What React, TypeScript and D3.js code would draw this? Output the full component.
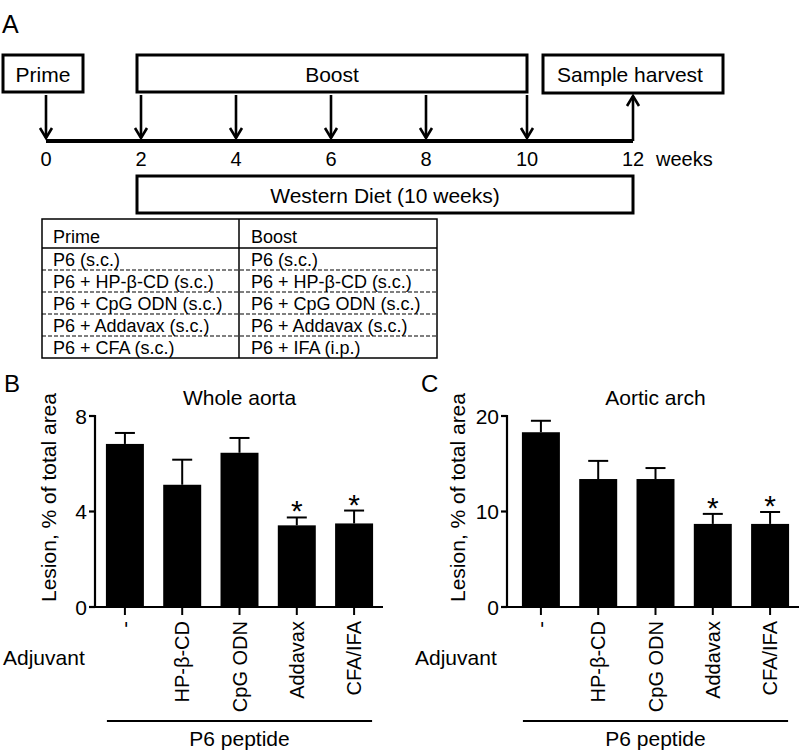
import React from "react";
import * as d3 from "d3";

// ---------- Data ----------
const timelineWeeks = [0, 2, 4, 6, 8, 10, 12];
const timelineAnchorWeeks = [0, 8, 10, 12];
const primeWeeks = [0];
const boostWeeks = [2, 4, 6, 8, 10];
const harvestWeek = 12;

const tableHeader = ["Prime", "Boost"];
const primeRows = ["P6 (s.c.)", "P6 + HP-β-CD (s.c.)", "P6 + CpG ODN (s.c.)", "P6 + Addavax (s.c.)", "P6 + CFA (s.c.)"];
const boostRows = ["P6 (s.c.)", "P6 + HP-β-CD (s.c.)", "P6 + CpG ODN (s.c.)", "P6 + Addavax (s.c.)", "P6 + IFA (i.p.)"];

const adjuvants = ["-", "HP-β-CD", "CpG ODN", "Addavax", "CFA/IFA"];
const significant = [false, false, false, true, true];

const wholeAortaMean = [6.83, 5.12, 6.46, 3.42, 3.5];
const wholeAortaSem = [0.46, 1.05, 0.62, 0.33, 0.54];
const wholeAortaTicks = [0, 4, 8];

const archMean = [18.3, 13.4, 13.4, 8.7, 8.7];
const archSem = [1.2, 1.9, 1.15, 1.05, 1.25];
const archTicks = [0, 10, 20];

const FONT = "'Liberation Sans', Arial, Helvetica, sans-serif";

function DownArrow({ x, y1, y2 }: { x: number; y1: number; y2: number }) {
  return (
    <g stroke="#000" strokeWidth={2.6} fill="none">
      <line x1={x} x2={x} y1={y1} y2={y2} />
      <polyline points={`${x - 6},${y2 - 10} ${x},${y2} ${x + 6},${y2 - 10}`} strokeLinejoin="miter" />
    </g>
  );
}

function Timeline() {
  const x = d3.scaleLinear().domain(timelineAnchorWeeks).range([46, 426, 527, 633]);
  const lineY = 141;
  const boxTop = 55;
  const boxBot = 92;
  return (
    <g fontFamily={FONT}>
      <text x={2} y={33} fontSize={25}>A</text>
      {/* Prime box */}
      <rect x={3} y={boxTop} width={80} height={boxBot - boxTop} fill="#fff" stroke="#000" strokeWidth={3} />
      <text x={43} y={82} fontSize={21} textAnchor="middle">Prime</text>
      {/* Boost box */}
      <rect x={x(2) - 4} y={boxTop} width={x(10) - x(2) + 4} height={boxBot - boxTop} fill="#fff" stroke="#000" strokeWidth={3} />
      <text x={(x(2) - 4 + x(10)) / 2} y={82} fontSize={21} textAnchor="middle">Boost</text>
      {/* Sample harvest */}
      <rect x={543} y={boxTop} width={180} height={boxBot - boxTop + 1} fill="#fff" stroke="#000" strokeWidth={3} />
      <text x={630} y={82} fontSize={21} textAnchor="middle">Sample harvest</text>
      {/* arrows */}
      {primeWeeks.concat(boostWeeks).map((w) => (
        <DownArrow key={w} x={x(w)} y1={95} y2={138} />
      ))}
      <g stroke="#000" strokeWidth={2.6} fill="none">
        <line x1={x(harvestWeek)} x2={x(harvestWeek)} y1={lineY} y2={96} />
        <polyline points={`${x(harvestWeek) - 6},${106} ${x(harvestWeek)},${96} ${x(harvestWeek) + 6},${106}`} />
      </g>
      {/* main line */}
      <line x1={x(0)} x2={x(12)} y1={lineY} y2={lineY} stroke="#000" strokeWidth={4} />
      {timelineWeeks.map((w) => (
        <text key={w} x={x(w)} y={166} fontSize={20} textAnchor="middle">{w}</text>
      ))}
      <text x={656} y={166} fontSize={20}>weeks</text>
      {/* Western diet */}
      <rect x={x(2) - 4} y={176} width={x(12) - x(2) + 4} height={37} fill="#fff" stroke="#000" strokeWidth={3} />
      <text x={(x(2) - 4 + x(12)) / 2} y={203} fontSize={21} textAnchor="middle">Western Diet (10 weeks)</text>
    </g>
  );
}

function Table() {
  const left = 42, mid = 239, right = 437;
  const top = 219, headBot = 248;
  const rowH = 22;
  const rows = d3.range(primeRows.length);
  const bottom = headBot + rowH * rows.length;
  return (
    <g fontFamily={FONT} fontSize={18}>
      <rect x={left} y={top} width={right - left} height={bottom - top} fill="none" stroke="#000" strokeWidth={1.5} />
      <line x1={mid} x2={mid} y1={top} y2={bottom} stroke="#000" strokeWidth={1.5} />
      <line x1={left} x2={right} y1={headBot} y2={headBot} stroke="#000" strokeWidth={1.5} />
      {rows.slice(1).map((i) => (
        <line key={i} x1={left} x2={right} y1={headBot + rowH * i} y2={headBot + rowH * i} stroke="#000" strokeWidth={1.2} strokeDasharray="4,2" />
      ))}
      <text x={53} y={headBot - 5}>{tableHeader[0]}</text>
      <text x={251} y={headBot - 5}>{tableHeader[1]}</text>
      {rows.map((i) => (
        <g key={i}>
          <text x={53} y={headBot + rowH * (i + 1) - 4}>{primeRows[i]}</text>
          <text x={251} y={headBot + rowH * (i + 1) - 4}>{boostRows[i]}</text>
        </g>
      ))}
    </g>
  );
}

function BarPanel({
  label, title, means, sems, ticks, axisX, r0, r1, labelX, yLabelX, adjX,
}: {
  label: string; title: string; means: number[]; sems: number[]; ticks: number[];
  axisX: number; r0: number; r1: number; labelX: number; yLabelX: number; adjX: number;
}) {
  const y0 = 607, yTop = 416;
  const y = d3.scaleLinear().domain([0, ticks[ticks.length - 1]]).range([y0, yTop]);
  const x = d3.scaleBand<string>().domain(adjuvants).range([r0, r1]).paddingInner(0.337).paddingOuter(0.173);
  const bw = x.bandwidth();
  const first = x(adjuvants[0])!;
  const last = x(adjuvants[adjuvants.length - 1])! + bw;
  const center = (first + last) / 2;
  return (
    <g fontFamily={FONT}>
      <text x={labelX} y={392} fontSize={24}>{label}</text>
      <text x={center} y={405} fontSize={21} textAnchor="middle">{title}</text>
      {/* bars */}
      {adjuvants.map((a, i) => {
        const cx = x(a)! + bw / 2;
        const top = y(means[i]);
        const et = y(means[i] + sems[i]);
        return (
          <g key={a}>
            <rect x={x(a)} y={top} width={bw} height={y0 - top} fill="#000" />
            <line x1={cx} x2={cx} y1={top} y2={et} stroke="#000" strokeWidth={2} />
            <line x1={cx - 10} x2={cx + 10} y1={et} y2={et} stroke="#000" strokeWidth={2} />
            {significant[i] && (
              <text x={cx} y={et + 4} fontSize={30} textAnchor="middle">*</text>
            )}
            <line x1={cx} x2={cx} y1={y0} y2={615} stroke="#000" strokeWidth={2} />
            <text
              transform={`translate(${cx},621) rotate(-90)`}
              dy="0.35em"
              fontSize={20}
              textAnchor="end"
            >{a}</text>
          </g>
        );
      })}
      {/* axes */}
      <line x1={axisX} x2={axisX} y1={yTop - 1} y2={y0 + 1} stroke="#000" strokeWidth={2.2} />
      <line x1={axisX - 1} x2={r1} y1={y0} y2={y0} stroke="#000" strokeWidth={2.2} />
      {ticks.map((t) => (
        <g key={t}>
          <line x1={axisX - 6} x2={axisX} y1={y(t)} y2={y(t)} stroke="#000" strokeWidth={2.2} />
          <text x={axisX - 8} y={y(t)} dy="0.36em" fontSize={21} textAnchor="end">{t}</text>
        </g>
      ))}
      <text
        transform={`translate(${yLabelX},${(y0 + yTop) / 2 - 14}) rotate(-90)`}
        fontSize={21}
        textAnchor="middle"
      >Lesion, % of total area</text>
      <text x={adjX} y={665} fontSize={21}>Adjuvant</text>
      <line x1={first + 1} x2={last - 1} y1={721} y2={721} stroke="#000" strokeWidth={2.2} />
      <text x={center} y={746} fontSize={21} textAnchor="middle">P6 peptide</text>
    </g>
  );
}

export default function App() {
  return (
    <svg width={800} height={752} style={{ position: "absolute", left: 0, top: 0, background: "#fff" }}>
      <rect width={800} height={752} fill="#fff" />
      <Timeline />
      <Table />
      <BarPanel label="B" title="Whole aorta" means={wholeAortaMean} sems={wholeAortaSem} ticks={wholeAortaTicks}
        axisX={95} r0={96} r1={383} labelX={4} yLabelX={56} adjX={3} />
      <BarPanel label="C" title="Aortic arch" means={archMean} sems={archSem} ticks={archTicks}
        axisX={507} r0={512} r1={799} labelX={421} yLabelX={465} adjX={415} />
    </svg>
  );
}
